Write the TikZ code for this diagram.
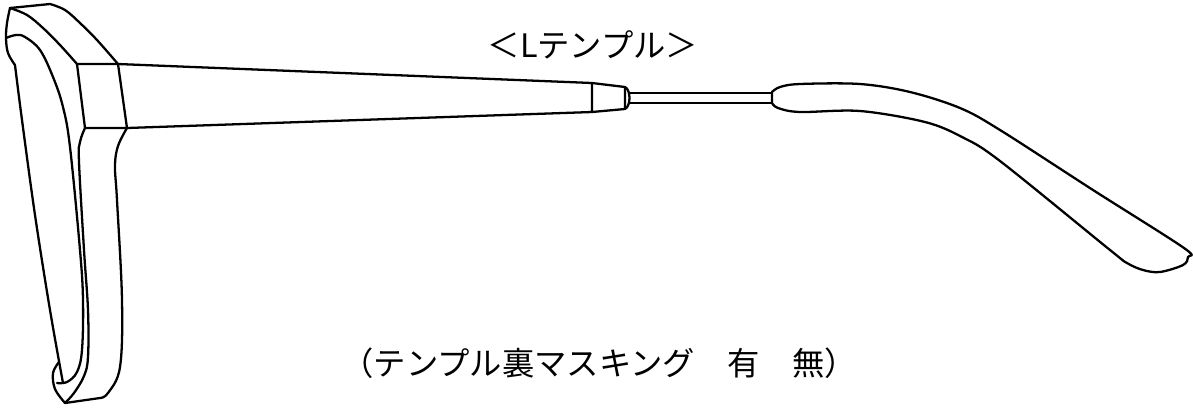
\documentclass[tikz,border=0pt]{standalone}
\usepackage{fontspec}
\newfontfamily\cjk{Noto Sans CJK JP}
\begin{document}
\begin{tikzpicture}[x=0.02cm, y=-0.02cm, line width=1.3pt, line join=round, line cap=round,
    caption/.style={font=\cjk\fontsize{18.4}{21}\selectfont, inner sep=0pt}]
  \useasboundingbox (0,0) rectangle (1193,407);
  % hinge block corners
  \coordinate (bTL) at (77,64);
  \coordinate (bTR) at (118,64);
  \coordinate (bBR) at (127,128);
  \coordinate (bBL) at (85,128);
  % front rim
  \draw plot[smooth, tension=0.6] coordinates {(118,64) (97,40) (80,23) (65,10) (50,4)} -- (10,8);
  \draw plot[smooth, tension=0.6] coordinates {(10,8) (7,23) (6,38) (8,53) (15,65)};
  \draw plot[smooth, tension=0.6] coordinates {(10,8) (27,15) (43,28) (60,45) (77,64)};
  \draw plot[smooth, tension=0.6] coordinates {(6,38) (16,35) (25,37) (40,50) (53,77) (63,107) (70,147) (80,250) (83,300) (82,350) (77,372) (67,382) (57,383)};
  \draw plot[smooth, tension=0.6] coordinates {(15,65) (22,120) (35,215) (50,310) (63,383)};
  \draw plot[smooth, tension=0.6] coordinates {(59,362) (53,373) (55,389) (65,403)};
  \draw plot[smooth, tension=0.6] coordinates {(85,128) (80,142) (79,162) (84,250) (88,310) (88,357) (84,376) (74,393) (65,403)};
  \draw (65,403) -- (100,398) plot[smooth, tension=0.6] coordinates {(100,398) (108,393) (120,367) (122,300) (117,200) (115,166) (118,146) (127,128)};
  \draw (bTL) -- (bTR) -- (bBR) -- (bBL) -- cycle;
  % temple
  \coordinate (tipT) at (592,83);
  \coordinate (tipB) at (592,112);
  \draw (bTR) -- (tipT) -- (tipB) -- (bBR);
  \draw (tipT) -- (625,87) -- (625,109) -- (tipB);
  \draw (625,87) .. controls (631,90) and (631,106) .. (625,109);
  \draw (630,93) -- (772,93);
  \draw (630,103) -- (772,103);
  % earpiece
  \draw (772,103) -- (772,92) plot[smooth, tension=0.55] coordinates {(772,92) (780,87) (800,84) (860,84) (910,92) (960,108) (1000,130) (1093,190) (1184,248) (1188,257) (1183,265) (1160,272) (1143,270) (1127,263) (1110,250) (1000,161) (962,137) (925,122) (860,111) (800,112) (778,108) (772,103)};
  % labels
  \node[caption] (title) at (593,45) {＜Lテンプル＞};
  \node[caption] (note) at (599,363) {（テンプル裏マスキング　有　無）};
\end{tikzpicture}
\end{document}
